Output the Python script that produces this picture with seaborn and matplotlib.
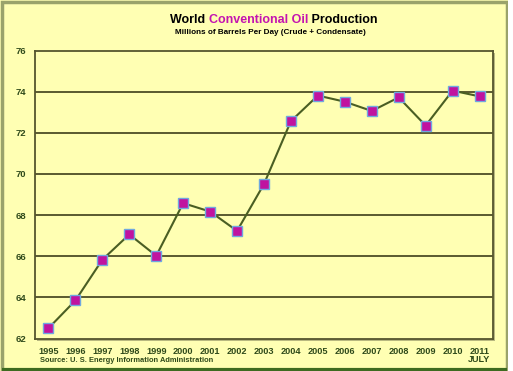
import matplotlib
matplotlib.use("Agg")
import matplotlib.pyplot as plt
import seaborn as sns
import pandas as pd
from matplotlib.patches import Rectangle

years = ["1995", "1996", "1997", "1998", "1999", "2000", "2001", "2002", "2003",
         "2004", "2005", "2006", "2007", "2008", "2009", "2010", "2011"]
production = [62.5, 63.85, 65.83, 67.06, 66.02, 68.58, 68.17, 67.23, 69.51,
              72.57, 73.81, 73.51, 73.06, 73.72, 72.35, 74.05, 73.77]
tick_labels = years[:-1] + ["2011\nJULY"]
y_ticks = [62, 64, 66, 68, 70, 72, 74, 76]

df = pd.DataFrame({"idx": range(len(years)), "year": years, "value": production})

sns.set_style("white")
plt.rcParams['font.family'] = ['Liberation Sans', 'DejaVu Sans']

bg = "#FFFFB3"
txt = "#2F4A1A"
fig = plt.figure(figsize=(5.13, 3.71), dpi=100, facecolor=bg)
W, H = 513, 371
ax = fig.add_axes([35 / W, 1 - 338.5 / H, (493 - 35) / W, (338.5 - 50.5) / H])
ax.set_facecolor(bg)

# frame border of whole figure
fig.patches.append(Rectangle((1.5 / W, 1.5 / H), 1 - 8 / W, 1 - 3 / H, transform=fig.transFigure,
                             fill=False, edgecolor="#9AA36B", linewidth=2.5, zorder=0))
fig.patches.append(Rectangle((1.5 / W, 1.5 / H), 1 - 8 / W, 0, transform=fig.transFigure,
                             fill=False, edgecolor="#3E6B20", linewidth=3, zorder=0))
fig.patches.append(Rectangle((1 - 5 / W, 0), 5 / W, 1, transform=fig.transFigure,
                             facecolor="white", edgecolor="none", zorder=0))
# shadow of plot area
fig.patches.append(Rectangle((37 / W, 1 - 341 / H), (493 - 35) / W, (338.5 - 50.5) / H,
                             transform=fig.transFigure, facecolor="#B8B880", edgecolor="none", zorder=-1))

for yv in y_ticks[1:-1]:
    ax.axhline(yv, color="#4D4D26", linewidth=1.3, zorder=1)

sns.lineplot(data=df, x="idx", y="value", ax=ax, color="#4A5E23", linewidth=1.5,
             marker="s", markersize=6.5, markerfacecolor="#C0139F",
             markeredgecolor="#6FA8E0", markeredgewidth=1.0, zorder=3)

ax.set_xlim(-0.5, len(years) - 0.5)
ax.set_ylim(62, 76)
ax.set_yticks(y_ticks)
ax.set_yticklabels([str(v) for v in y_ticks], fontsize=6.8, fontweight="bold", color=txt)
ax.set_xticks(range(len(years)))
ax.set_xticklabels(tick_labels, fontsize=6.6, fontweight="bold", color=txt, linespacing=0.85, va="top")
ax.tick_params(axis="y", length=3, width=0.8, color="#777755", pad=3.5)
ax.tick_params(axis="x", length=0, pad=6)
ax.set_xlabel("")
ax.set_ylabel("")
for s in ax.spines.values():
    s.set_color("#55552E")
    s.set_linewidth(1.3)

# title with mixed colours
fig.canvas.draw()
renderer = fig.canvas.get_renderer()
parts = [("World ", "black"), ("Conventional Oil", "#C414B0"), (" Production", "black")]
texts = []
for s, c in parts:
    texts.append(fig.text(0, 1 - 20 / H, s, fontsize=9, fontweight="bold", color=c, va="center", ha="left"))
widths = [t.get_window_extent(renderer).width for t in texts]
total = sum(widths)
x0 = 274 - total / 2
for t, w in zip(texts, widths):
    t.set_x(x0 / W)
    x0 += w

fig.text(270 / W, 1 - 33 / H, "Millions of Barrels Per Day (Crude + Condensate)", fontsize=5.9,
         fontweight="bold", color="black", ha="center", va="center")
fig.text(40 / W, 1 - 360 / H, "Source: U. S. Energy Information Administration", fontsize=5.4,
         fontweight="bold", color=txt, ha="left", va="center")

fig.savefig("out.png", dpi=100, facecolor=bg)
